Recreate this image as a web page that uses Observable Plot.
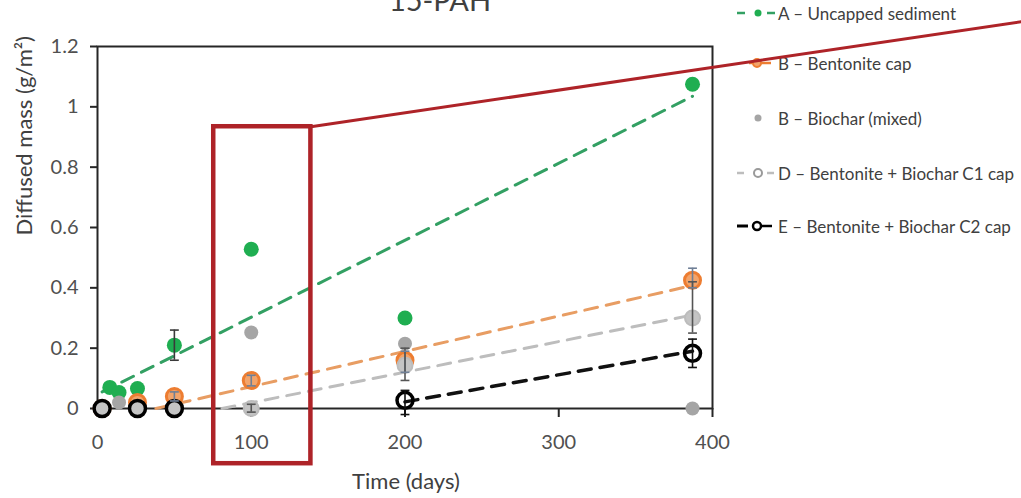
<!DOCTYPE html>
<html>
<head>
<meta charset="utf-8">
<script src="https://cdn.jsdelivr.net/npm/d3@7"></script>
<script src="https://cdn.jsdelivr.net/npm/@observablehq/plot@0.6"></script>
<style>
  body { margin: 0; background: #fff; font-family: Lato, "Open Sans", sans-serif; }
  #wrap { position: relative; width: 1021px; height: 498px; overflow: hidden; background: #fff; }
  #legend { position: absolute; left: 0; top: 0; width: 1021px; height: 498px; }
  #chart { position: absolute; left: 0; top: 0; }
  .item { position: absolute; left: 735px; height: 24px; display: flex; align-items: center;
          font-size: 17px; color: #404040; white-space: nowrap; }
  .item svg { width: 42px; height: 24px; margin-right: 1px; }
</style>
</head>
<body>
<div id="wrap">
  <div id="legend"></div>
  <div id="chart"></div>
</div>
<script>
// Treatments (legend order)
const seriesNames = [
  "A – Uncapped sediment",
  "B – Bentonite cap",
  "B – Biochar (mixed)",
  "D – Bentonite + Biochar C1 cap",
  "E – Bentonite + Biochar C2 cap"
];

// Measured diffused mass (g/m²) against time (days)
const daysA = [8, 14, 26, 50, 100, 200, 387];
const massA = [0.07, 0.053, 0.066, 0.21, 0.528, 0.30, 1.075];

const daysB = [3, 26, 50, 100, 200, 387];
const massB = [0, 0.02, 0.04, 0.093, 0.16, 0.425];

const daysBio = [3, 14, 26, 50, 100, 200, 387];
const massBio = [0, 0.02, 0, 0, 0.252, 0.215, 0];

const daysD = [3, 26, 50, 100, 200, 387];
const massD = [0, 0, 0, 0, 0.143, 0.30];

const daysE = [3, 26, 50, 200, 387];
const massE = [0, 0, 0, 0.027, 0.183];

// Linear trend lines (start and end of each fitted line)
const trendA = [[3, 0.055], [387, 1.035]];
const trendB = [[38, 0], [387, 0.408]];
const trendD = [[81, 0], [387, 0.31]];
const trendE = [[200, 0.022], [387, 0.19]];

// Error bars: series index, day, low, high
const errSeries = [0, 1, 1, 1, 1, 3, 3, 3, 4, 4];
const errDays   = [50, 50, 100, 200, 387, 100, 200, 387, 200, 387];
const errLow    = [0.16, 0.025, 0.075, 0.12, 0.40, -0.012, 0.093, 0.25, -0.02, 0.136];
const errHigh   = [0.26, 0.055, 0.11, 0.19, 0.465, 0.014, 0.20, 0.42, 0.06, 0.23];

// Highlight box around day 100 and its callout line
const boxDays = [75.6, 138.8];
const boxMass = [-0.183, 0.934];
const calloutDays = [138.8, 601];
const calloutMass = [0.934, 1.282];

// Axis ticks
const xTicks = [0, 100, 200, 300, 400];
const yTicks = [0, 0.2, 0.4, 0.6, 0.8, 1, 1.2];

const title = "15-PAH";
const xLabel = "Time (days)";
const yLabel = "Diffused mass (g/m²)";

const colors = {
  green: "#1fae51", greenLine: "#33a063",
  orange: "#ed7d31", orangeFill: "#f2a46b", orangeLine: "#e89d63",
  bio: "#a5a5a5",
  d: "#c4c4c4", dLine: "#bdbdbd",
  e: "#000000",
  red: "#ae2328"
};

const zip = (xs, ys) => xs.map((x, i) => ({x, y: ys[i]}));
const ptsA = zip(daysA, massA);
const ptsB = zip(daysB, massB);
const ptsBio = zip(daysBio, massBio);
const ptsD = zip(daysD, massD);
const ptsE = zip(daysE, massE);
const toLine = (t) => t.map(([x, y]) => ({x, y}));
const errs = errDays.map((x, i) => ({s: errSeries[i], x, lo: errLow[i], hi: errHigh[i]}));
const errColor = ["#3a3a3a", "#6f7f96", "#555", "#555", "#111"];

// horizontal cap glyph for error bars
const capSymbol = {
  draw(ctx, size) {
    const w = Math.sqrt(size) / 2;
    ctx.moveTo(-w, 0);
    ctx.lineTo(w, 0);
  }
};

const dash = "13,9";

const chart = Plot.plot({
  width: 1021,
  height: 498,
  marginLeft: 97,
  marginRight: 309,
  marginTop: 46,
  marginBottom: 90,
  style: {background: "transparent", color: "#505050", fontFamily: "Lato, 'Open Sans', sans-serif", overflow: "visible"},
  x: {domain: [0, 400]},
  y: {domain: [0, 1.2]},
  marks: [
    Plot.axisY({ticks: yTicks, tickFormat: d => String(d), tickSize: 7, tickPadding: 12, fontSize: 20, label: null, stroke: "#262626", strokeWidth: 2}),
    Plot.axisX({ticks: xTicks, tickFormat: d => String(d), tickSize: 9, tickPadding: 17, fontSize: 20, label: null, stroke: "#262626", strokeWidth: 2}),
    Plot.frame({stroke: "#262626", strokeWidth: 2}),

    // trend lines
    Plot.line(toLine(trendA), {x: "x", y: "y", stroke: colors.greenLine, strokeWidth: 3, strokeDasharray: dash}),
    Plot.line(toLine(trendB), {x: "x", y: "y", stroke: colors.orangeLine, strokeWidth: 3, strokeDasharray: dash}),
    Plot.line(toLine(trendD), {x: "x", y: "y", stroke: colors.dLine, strokeWidth: 3, strokeDasharray: dash}),
    Plot.line(toLine(trendE), {x: "x", y: "y", stroke: "#111", strokeWidth: 3.5, strokeDasharray: dash}),

    // markers
    Plot.dot(ptsA, {x: "x", y: "y", r: 7.5, fill: colors.green}),
    Plot.dot(ptsB, {x: "x", y: "y", r: 8, fill: colors.orangeFill, stroke: colors.orange, strokeWidth: 3}),
    Plot.dot(ptsBio, {x: "x", y: "y", r: 7, fill: colors.bio}),
    Plot.dot(ptsD, {x: "x", y: "y", r: 7.5, fill: colors.d, stroke: "#bcbcbc", strokeWidth: 2}),
    Plot.dot(ptsE, {x: "x", y: "y", r: 8, fill: "none", stroke: colors.e, strokeWidth: 3.5}),

    // error bars
    Plot.ruleX(errs, {x: "x", y1: "lo", y2: "hi", stroke: d => errColor[d.s], strokeWidth: 1.6}),
    Plot.dot(errs, {x: "x", y: "lo", symbol: capSymbol, r: 5, stroke: d => errColor[d.s], strokeWidth: 1.6, fill: "none"}),
    Plot.dot(errs, {x: "x", y: "hi", symbol: capSymbol, r: 5, stroke: d => errColor[d.s], strokeWidth: 1.6, fill: "none"}),

    // titles
    Plot.text([title], {frameAnchor: "top", dx: 35, dy: -36, lineAnchor: "bottom", fontSize: 29, fill: "#404040"}),
    Plot.text([xLabel], {frameAnchor: "bottom", dx: 1, dy: 80, lineAnchor: "bottom", fontSize: 22, fill: "#404040"}),
    Plot.text([yLabel], {frameAnchor: "left", dx: -73, dy: 8, rotate: -90, lineAnchor: "middle", fontSize: 22, fill: "#404040"}),

    // highlight box and callout
    Plot.rect([0], {x1: () => boxDays[0], x2: () => boxDays[1], y1: () => boxMass[0], y2: () => boxMass[1], fill: "none", stroke: colors.red, strokeWidth: 4.5}),
    Plot.line(zip(calloutDays, calloutMass), {x: "x", y: "y", stroke: colors.red, strokeWidth: 3})
  ]
});
document.getElementById("chart").appendChild(chart);

// Legend
const legendY = [13, 63, 118, 173, 226];
const icons = [
  `<line x1="2" y1="12" x2="10" y2="12" stroke="${colors.greenLine}" stroke-width="2.5"/><circle cx="23" cy="12" r="3.5" fill="${colors.green}"/><line x1="32" y1="12" x2="40" y2="12" stroke="${colors.greenLine}" stroke-width="2.5"/>`,
  `<line x1="14" y1="12" x2="36" y2="12" stroke="${colors.orange}" stroke-width="2.5"/><circle cx="22" cy="12" r="4" fill="${colors.orangeFill}" stroke="${colors.orange}" stroke-width="2"/>`,
  `<circle cx="23" cy="12" r="3.5" fill="${colors.bio}"/>`,
  `<line x1="2" y1="12" x2="9" y2="12" stroke="${colors.dLine}" stroke-width="2.5"/><circle cx="23" cy="12" r="4" fill="#fff" stroke="#9a9a9a" stroke-width="2"/><line x1="32" y1="12" x2="39" y2="12" stroke="${colors.dLine}" stroke-width="2.5"/>`,
  `<line x1="2" y1="12" x2="13" y2="12" stroke="#000" stroke-width="3"/><line x1="23" y1="12" x2="37" y2="12" stroke="#000" stroke-width="2.5"/><circle cx="22" cy="12" r="4" fill="#fff" stroke="#000" stroke-width="2.5"/>`
];
const legend = document.getElementById("legend");
seriesNames.forEach((name, i) => {
  const div = document.createElement("div");
  div.className = "item";
  div.style.top = (legendY[i] - 12) + "px";
  div.innerHTML = `<svg viewBox="0 0 42 24">${icons[i]}</svg><span>${name}</span>`;
  legend.appendChild(div);
});
</script>
</body>
</html>
